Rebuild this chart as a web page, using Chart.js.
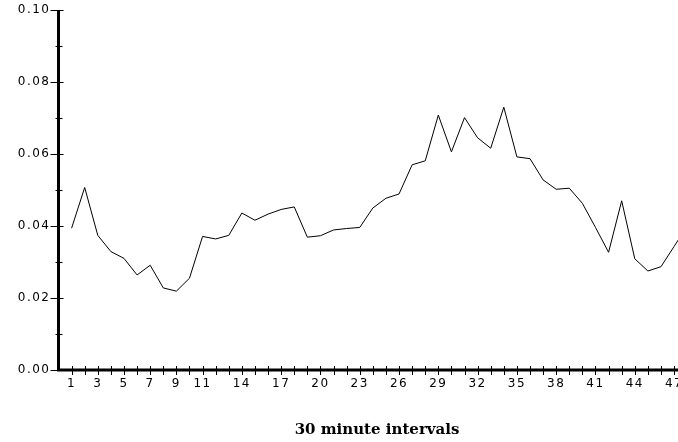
<!DOCTYPE html>
<html>
<head>
<meta charset="utf-8">
<script src="https://cdn.jsdelivr.net/npm/chart.js@4.4.1/dist/chart.umd.min.js"></script>
<style>
  html, body { margin: 0; padding: 0; background: #fff; }
  #wrap { width: 678px; height: 442px; }
</style>
</head>
<body>
<div id="wrap"><canvas id="chart"></canvas></div>
<script>
// interval number (x) and value (y)
const intervals = [1, 2, 3, 4, 5, 6, 7, 8, 9, 10, 11, 12, 13, 14, 15, 16,
    17, 18, 19, 20, 21, 22, 23, 24, 25, 26, 27, 28, 29, 30, 31, 32,
    33, 34, 35, 36, 37, 38, 39, 40, 41, 42, 43, 44, 45, 46, 47, 48];
const values = [0.0394, 0.0507, 0.0374, 0.0329, 0.0310, 0.0264, 0.0291, 0.0228,
    0.0219, 0.0255, 0.0371, 0.0364, 0.0374, 0.0436, 0.0416, 0.0433,
    0.0446, 0.0453, 0.0369, 0.0373, 0.0389, 0.0393, 0.0396, 0.0450,
    0.0477, 0.0489, 0.0570, 0.0581, 0.0708, 0.0606, 0.0701, 0.0645,
    0.0616, 0.0730, 0.0592, 0.0587, 0.0528, 0.0502, 0.0505, 0.0463,
    0.0396, 0.0327, 0.0470, 0.0309, 0.0275, 0.0287, 0.0343, 0.0400];
const yMajorTicks = [0, 0.02, 0.04, 0.06, 0.08, 0.10];
const yMinorTicks = [0.01, 0.03, 0.05, 0.07, 0.09];
const xTickLabels = [1, 3, 5, 7, 9, 11, 14, 17, 20, 23, 26, 29, 32, 35, 38, 41, 44, 47];
const xTitle = '30 minute intervals';

const points = intervals.map((x, i) => ({ x: x, y: values[i] }));

// axis lines and tick marks cross the axis, so draw them by hand
const axisMarks = {
    id: 'axisMarks',
    beforeDraw(chart) {
        chart.ctx.letterSpacing = '1.5px';
    },
    afterDraw(chart) {
        const ctx = chart.ctx;
        const xs = chart.scales.x, ys = chart.scales.y;
        const left = xs.getPixelForValue(0);
        const bottom = ys.getPixelForValue(0);
        ctx.save();
        ctx.letterSpacing = '0px';
        ctx.strokeStyle = '#000';
        ctx.lineWidth = 3;
        ctx.beginPath();
        ctx.moveTo(left, ys.getPixelForValue(0.10));
        ctx.lineTo(left, bottom);
        ctx.lineTo(chart.width, bottom);
        ctx.stroke();

        ctx.lineWidth = 1;
        ctx.beginPath();
        yMajorTicks.forEach(v => {
            const y = Math.round(ys.getPixelForValue(v)) + 0.5;
            ctx.moveTo(left - 8, y);
            ctx.lineTo(left + 5, y);
        });
        yMinorTicks.forEach(v => {
            const y = Math.round(ys.getPixelForValue(v)) + 0.5;
            ctx.moveTo(left - 3, y);
            ctx.lineTo(left + 4, y);
        });
        for (let i = 1; i <= 47; i++) {
            const x = Math.round(xs.getPixelForValue(i)) + 0.5;
            ctx.moveTo(x, bottom - 4);
            ctx.lineTo(x, bottom + 5);
        }
        ctx.stroke();

        ctx.fillStyle = '#000';
        ctx.font = 'bold 15px "DejaVu Serif"';
        ctx.textAlign = 'center';
        ctx.textBaseline = 'middle';
        ctx.fillText(xTitle, 377, 430);
        ctx.restore();
    }
};

new Chart(document.getElementById('chart'), {
    type: 'line',
    data: {
        datasets: [{
            data: points,
            borderColor: '#000',
            borderWidth: 1,
            pointRadius: 0,
            tension: 0,
            fill: false
        }]
    },
    options: {
        responsive: true,
        maintainAspectRatio: false,
        animation: false,
        devicePixelRatio: 1,
        layout: { padding: { top: 10, right: 0, left: 0, bottom: 0 } },
        plugins: { legend: { display: false }, tooltip: { enabled: false } },
        scales: {
            x: {
                type: 'linear',
                min: 0,
                max: 47.3,
                border: { display: false },
                grid: { display: false, drawTicks: false },
                afterBuildTicks: scale => {
                    scale.ticks = xTickLabels.map(v => ({ value: v }));
                },
                afterFit: scale => {
                    scale.height = 72;
                    scale.paddingLeft = 0;
                    scale.paddingRight = 0;
                },
                ticks: {
                    autoSkip: false,
                    maxRotation: 0,
                    padding: 7,
                    color: '#000',
                    font: { family: '"DejaVu Sans"', size: 12 }
                }
            },
            y: {
                min: 0,
                max: 0.10,
                border: { display: false },
                grid: { display: false, drawTicks: false },
                afterBuildTicks: scale => {
                    scale.ticks = yMajorTicks.map(v => ({ value: v }));
                },
                afterFit: scale => {
                    scale.width = 58.5;
                    scale.paddingTop = 0;
                    scale.paddingBottom = 0;
                },
                ticks: {
                    padding: 8,
                    color: '#000',
                    font: { family: '"DejaVu Sans"', size: 12 },
                    callback: v => v.toFixed(2)
                }
            }
        }
    },
    plugins: [axisMarks]
});
</script>
</body>
</html>
